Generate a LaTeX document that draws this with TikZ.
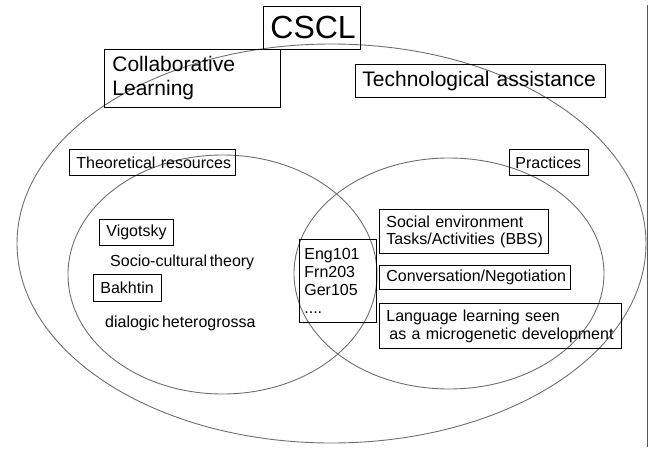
\documentclass[tikz,border=0pt]{standalone}
\usepackage{fontspec}
\setmainfont[WordSpace=0.6]{Liberation Sans}
\usepackage{xcolor}
\definecolor{ringline}{HTML}{6E6E6E}
\definecolor{edgeline}{HTML}{4A5A70}
\usepackage{tikz}
\usetikzlibrary{positioning}

\begin{document}
\begin{tikzpicture}[
  x=1pt, y=-1pt,
  ring/.style={draw=ringline, line width=0.9pt},
  tag/.style={draw, line width=0.8pt, anchor=north west, align=left,
              inner xsep=7pt, inner ysep=0pt, font=\fontsize{16}{17}\selectfont},
  bigtag/.style={tag, font=\fontsize{21}{24}\selectfont},
  note/.style={anchor=west, inner sep=0pt, font=\fontsize{16}{17}\selectfont}
]
\useasboundingbox (0,0) rectangle (651,450);

% circles of the diagram
\draw[ring] (331.5,243.5) ellipse [x radius=314.5, y radius=199.5];
\draw[ring] (222.5,274.5) ellipse [x radius=154.5, y radius=119.5];
\draw[ring] (449,273.5) ellipse [x radius=155, y radius=115.5];

% frame edge on the right
\draw[edgeline, line width=1pt] (647.5,5) -- (647.5,447);

\node[tag, align=center, font=\fontsize{32}{36}\selectfont,
      text width=83pt, minimum height=43pt] (cscl) at (263,6) {CSCL};
\node[bigtag, inner xsep=8pt, text width=160pt, minimum height=58pt] (collab) at (104,49)
  {Collaborative\\Learning};
\node[bigtag, text width=236pt, minimum height=33pt] (tech) at (355,64)
  {\mbox{Technological assistance}};

\node[tag, text width=152pt, minimum height=26pt] (theory) at (69,149) {\mbox{Theoretical resources}};
\node[tag, inner xsep=6pt, text width=67pt, minimum height=26pt] (pract) at (509,149) {Practices};

\node[tag, text width=60pt, minimum height=26pt] (vigot) at (99,219) {Vigotsky};
\node[note] (socio) at (110,262) {Socio-cultural theory};
\node[tag, text width=54pt, minimum height=27pt] (bakh) at (93,274) {Bakhtin};
\node[note] (dialog) at (105,323) {dialogic heterogrossa};

\node[tag, inner xsep=5pt, font=\fontsize{16}{18}\selectfont,
      text width=67pt, minimum height=83pt] (course) at (299,239)
  {Eng101\\Frn203\\Ger105\\....};

\node[tag, text width=155pt, minimum height=44pt] (social) at (379,209)
  {\mbox{Social environment}\\\mbox{Tasks/Activities (BBS)}};
\node[tag, text width=177pt, minimum height=24pt] (conv) at (379,265)
  {\mbox{Conversation/Negotiation}};
\node[tag, font=\fontsize{16}{18}\selectfont, text width=228pt, minimum height=45pt] (lang) at (379,303)
  {\mbox{Language learning seen}\\\mbox{\hspace*{3pt}as a microgenetic development}};

\end{tikzpicture}
\end{document}
